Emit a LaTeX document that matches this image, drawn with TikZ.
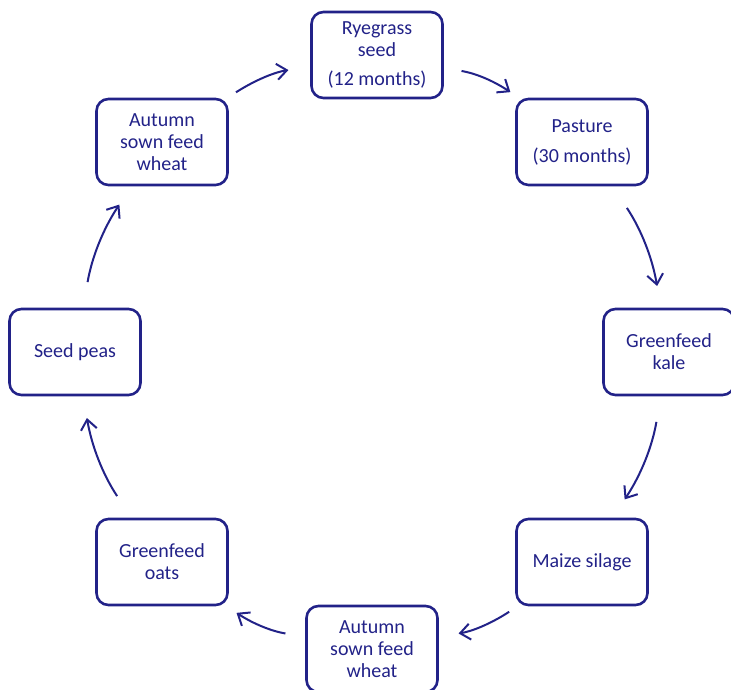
\documentclass[tikz,border=0pt]{standalone}
\usepackage{fontspec}
\setmainfont{Carlito}
\usetikzlibrary{arrows.meta}
\definecolor{navyCycle}{HTML}{222288}

\begin{document}
\begin{tikzpicture}[x=0.5pt,y=0.5pt]

            \tikzset{
                cropbox/.style={
                    draw=navyCycle,
                    text=navyCycle,
                    line width=1.3pt,
                    rounded corners=6pt,
                    minimum width=65.5pt,
                    minimum height=43pt,
                    align=center,
                    inner sep=2pt,
                    font=\fontsize{10}{11}\selectfont
                },
                rotation/.style={
                    draw=navyCycle,
                    line width=1pt,
                    -{Straight Barb[length=5pt,width=8pt,line width=1pt]},
                    bend left=12,
                    shorten <=13pt,
                    shorten >=11pt
                }
            }

            % page frame, circle centre at origin
            \useasboundingbox (-372,-337) rectangle (359,352);

            % stages of the crop rotation
            \node[cropbox] (rye)    at (5,297)   {Ryegrass\\seed\\[3.5pt](12 months)};
            \node[cropbox] (pasture) at (45:297)  {Pasture\\[4pt](30 months)};
            \node[cropbox] (kale)   at (0:297)   {Greenfeed\\kale};
            \node[cropbox] (maize)  at (-45:297) {Maize silage};
            \node[cropbox] (wheatB) at (-90:297) {Autumn\\sown feed\\wheat};
            \node[cropbox] (oats)   at (-135:297) {Greenfeed\\oats};
            \node[cropbox] (peas)   at (180:297) {Seed peas};
            \node[cropbox] (wheatA) at (135:297) {Autumn\\sown feed\\wheat};

            % arrows, clockwise
            \draw[rotation, shorten <=9pt, shorten >=5pt] (rye) to (pasture);
            \draw[rotation] (pasture) to (kale);
            \draw[rotation] (kale) to (maize);
            \draw[rotation, shorten <=5pt, shorten >=10pt] (maize) to (wheatB);
            \draw[rotation, shorten <=10pt, shorten >=6pt] (wheatB) to (oats);
            \draw[rotation] (oats) to (peas);
            \draw[rotation] (peas) to (wheatA);
            \draw[rotation, shorten <=5pt, shorten >=11pt] (wheatA) to (rye);

        \end{tikzpicture}
\end{document}
